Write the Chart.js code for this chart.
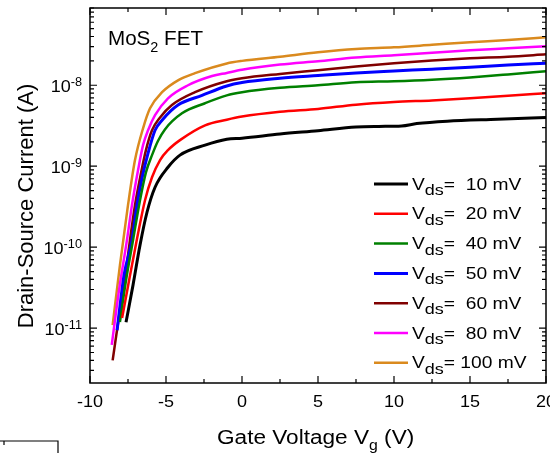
<!DOCTYPE html>
<html>
<head>
<meta charset="utf-8">
<script src="https://cdn.jsdelivr.net/npm/chart.js@4.4.0/dist/chart.umd.min.js"></script>
<style>
  html, body { margin: 0; padding: 0; background: #fff; }
  #chartId { display: block; }
</style>
</head>
<body>
<canvas id="chartId" width="550" height="453"></canvas>
<script>
// Gate voltage (V) and drain-source current (A)
var vg10 = [-7.63, -7.17, -6.71, -6.25, -5.72, -4.87, -4.08, -2.43, -1, 0, 2.5, 5, 7.5, 9, 10.5, 11.5, 13.5, 16.8, 20];
var id10 = [1.18e-11, 3.4e-11, 1.06e-10, 2.7e-10, 5.5e-10, 9.7e-10, 1.37e-9, 1.82e-9, 2.15e-9, 2.22e-9, 2.5e-9, 2.75e-9, 3.05e-9, 3.1e-9, 3.14e-9, 3.36e-9, 3.6e-9, 3.8e-9, 4.0e-9];

var vg20 = [-7.89, -7.5, -6.91, -6.38, -5.92, -5.39, -4.87, -4.08, -2.43, -1, 0, 2.5, 5, 7.5, 10, 12.5, 15, 17.5, 20];
var id20 = [1.33e-11, 3.3e-11, 1.26e-10, 3.8e-10, 7.3e-10, 1.19e-9, 1.58e-9, 2.1e-9, 3.2e-9, 3.75e-9, 4.1e-9, 4.7e-9, 5.1e-9, 5.75e-9, 6.2e-9, 6.5e-9, 6.9e-9, 7.4e-9, 7.97e-9];

var vg40 = [-8.03, -7.63, -7.17, -6.71, -6.32, -5.92, -5.53, -5.07, -3.95, -2.43, -1, 0, 2.5, 5, 7.5, 10, 12.5, 15, 17.5, 20];
var id40 = [1.19e-11, 3.9e-11, 1.22e-10, 3.8e-10, 8.4e-10, 1.37e-9, 2.05e-9, 2.85e-9, 4.5e-9, 6.0e-9, 7.5e-9, 8.2e-9, 9.3e-9, 1.0e-8, 1.09e-8, 1.12e-8, 1.17e-8, 1.25e-8, 1.36e-8, 1.49e-8];

var vg50 = [-8.22, -7.76, -7.24, -6.91, -6.58, -6.18, -5.72, -5.26, -4.21, -2.63, -1, 0, 2.5, 5, 7.5, 10, 12.5, 15, 17.5, 20];
var id50 = [9.4e-12, 4.5e-11, 1.22e-10, 3.3e-10, 7.1e-10, 1.45e-9, 2.78e-9, 3.7e-9, 5.7e-9, 7.5e-9, 9.8e-9, 1.08e-8, 1.22e-8, 1.32e-8, 1.42e-8, 1.5e-8, 1.58e-8, 1.67e-8, 1.78e-8, 1.87e-8];

var vg60 = [-8.51, -8.03, -7.63, -7.37, -7.04, -6.71, -6.32, -5.92, -5.39, -4.61, -3.09, -1, 0, 2.5, 5, 7.5, 10, 12.5, 15, 17.5, 20];
var id60 = [4.0e-12, 1.67e-11, 5.2e-11, 1.22e-10, 3.3e-10, 7.1e-10, 1.58e-9, 2.78e-9, 4.0e-9, 5.7e-9, 8.2e-9, 1.12e-8, 1.22e-8, 1.38e-8, 1.53e-8, 1.7e-8, 1.87e-8, 2.02e-8, 2.15e-8, 2.25e-8, 2.41e-8];

var vg80 = [-8.57, -8.09, -7.57, -7.24, -6.84, -6.51, -6.18, -5.72, -4.87, -3.55, -1.97, -1, 0, 2.5, 5, 7.5, 10, 12.5, 15, 17.5, 20];
var id80 = [6.2e-12, 2.95e-11, 1.22e-10, 3.3e-10, 8.9e-10, 1.82e-9, 2.78e-9, 4.27e-9, 6.9e-9, 1.0e-8, 1.3e-8, 1.42e-8, 1.55e-8, 1.8e-8, 1.98e-8, 2.2e-8, 2.35e-8, 2.52e-8, 2.7e-8, 2.86e-8, 3.03e-8];

var vg100 = [-8.51, -8.03, -7.5, -7.04, -6.51, -6.05, -5.26, -4.21, -3.09, -1, 0, 2.5, 5, 7.5, 10, 12.5, 15, 17.5, 20];
var id100 = [1.09e-11, 6.0e-11, 3.3e-10, 1.19e-9, 2.94e-9, 5.2e-9, 8.2e-9, 1.15e-8, 1.41e-8, 1.86e-8, 2.0e-8, 2.25e-8, 2.55e-8, 2.8e-8, 2.94e-8, 3.16e-8, 3.4e-8, 3.63e-8, 3.92e-8];

var vdsLabels = ['10', '20', '40', '50', '60', '80', '100'];
var colours = ['#000000', '#ff0000', '#008000', '#0000ff', '#800000', '#ff00ff', '#da8a1e'];
var widths = [3, 2.5, 2.5, 3, 2.5, 2.5, 2.5];

var xMajor = [-10, -5, 0, 5, 10, 15, 20];
var xMinor = [-7.5, -2.5, 2.5, 7.5, 12.5, 17.5];
var yDecades = [-8, -9, -10, -11];

var allVg = [vg10, vg20, vg40, vg50, vg60, vg80, vg100];
var allId = [id10, id20, id40, id50, id60, id80, id100];

function pts(xs, ys) {
	return xs.map(function (x, i) { return { x: x, y: ys[i] }; });
}

var FONT = '"Liberation Sans", Arial, sans-serif';

// text pieces drawn left to right, each with own size and baseline shift;
// sx widens the glyphs like the stretched original
function richWidth(ctx, parts, sx) {
	var w = 0;
	parts.forEach(function (p) {
		ctx.font = p.size + 'px ' + FONT;
		w += ctx.measureText(p.t).width;
	});
	return w * (sx || 1);
}
function richText(ctx, parts, x, y, sx) {
	ctx.save();
	ctx.translate(x, y);
	ctx.scale(sx || 1, 1);
	var cx = 0;
	parts.forEach(function (p) {
		ctx.font = p.size + 'px ' + FONT;
		ctx.fillText(p.t, cx, p.dy || 0);
		cx += ctx.measureText(p.t).width;
	});
	ctx.restore();
}

var frame = {
	id: 'frame',
	afterDraw: function (chart) {
		var ctx = chart.ctx;
		var a = chart.chartArea;
		var xs = chart.scales.x, ys = chart.scales.y;
		ctx.save();
		ctx.strokeStyle = '#000';
		ctx.fillStyle = '#000';
		ctx.lineWidth = 1.5;
		ctx.strokeRect(a.left, a.top, a.right - a.left, a.bottom - a.top);

		ctx.lineWidth = 1.2;
		ctx.beginPath();
		// x ticks, inward, bottom and top
		xMajor.concat(xMinor).forEach(function (v) {
			var len = xMajor.indexOf(v) >= 0 ? 7 : 4;
			var px = xs.getPixelForValue(v);
			ctx.moveTo(px, a.bottom); ctx.lineTo(px, a.bottom - len);
			ctx.moveTo(px, a.top); ctx.lineTo(px, a.top + len);
		});
		// y ticks, inward, left and right
		for (var d = -12; d <= -7; d++) {
			for (var k = 1; k <= 9; k++) {
				var v = k * Math.pow(10, d);
				if (v < ys.min || v > ys.max) continue;
				var len = k === 1 ? 7 : 4;
				var py = ys.getPixelForValue(v);
				ctx.moveTo(a.left, py); ctx.lineTo(a.left + len, py);
				ctx.moveTo(a.right, py); ctx.lineTo(a.right - len, py);
			}
		}
		ctx.stroke();

		ctx.textAlign = 'left';
		ctx.textBaseline = 'alphabetic';

		// x tick labels
		xMajor.forEach(function (v) {
			var parts = [{ t: String(v), size: 17 }];
			var w = richWidth(ctx, parts, 1.06);
			richText(ctx, parts, xs.getPixelForValue(v) - w / 2, 407, 1.06);
		});

		// y tick labels 10^n
		yDecades.forEach(function (d) {
			var py = ys.getPixelForValue(Math.pow(10, d));
			var parts = [{ t: '10', size: 17, dy: 6.5 }, { t: String(d), size: 12, dy: 1 }];
			var w = richWidth(ctx, parts, 1.06);
			richText(ctx, parts, 82 - w, py, 1.06);
		});

		// axis titles
		richText(ctx, [{ t: 'Gate Voltage V', size: 20 }, { t: 'g', size: 14, dy: 6 }, { t: ' (V)', size: 20 }], 217, 444, 1.13);
		ctx.save();
		ctx.translate(27, 206);
		ctx.rotate(-Math.PI / 2);
		ctx.textAlign = 'center';
		ctx.textBaseline = 'middle';
		ctx.font = '22px ' + FONT;
		ctx.fillText('Drain-Source Current (A)', 0, 0);
		ctx.restore();

		// sample label
		richText(ctx, [{ t: 'MoS', size: 20 }, { t: '2', size: 14, dy: 7 }, { t: ' FET', size: 20 }], 108, 45, 1.03);

		// legend
		vdsLabels.forEach(function (lab, i) {
			var ry = 184 + i * 29.8;
			ctx.strokeStyle = colours[i];
			ctx.lineWidth = widths[i];
			ctx.beginPath();
			ctx.moveTo(374, ry); ctx.lineTo(408, ry);
			ctx.stroke();
			var val = lab.length < 3 ? '=  ' + lab + ' mV' : '= ' + lab + ' mV';
			richText(ctx, [{ t: 'V', size: 16, dy: 5.5 }, { t: 'ds', size: 15, dy: 11 }, { t: val, size: 16, dy: 5.5 }], 412, ry, 1.2);
		});

		// corner of a neighbouring panel, bottom left
		ctx.strokeStyle = '#000';
		ctx.lineWidth = 1.2;
		ctx.beginPath();
		ctx.moveTo(0, 441); ctx.lineTo(58, 441); ctx.lineTo(58, 453);
		ctx.moveTo(4, 441); ctx.lineTo(4, 445);
		ctx.stroke();
		ctx.restore();
	}
};

var chrt = document.getElementById('chartId').getContext('2d');
var chartId = new Chart(chrt, {
	type: 'line',
	data: {
		datasets: allVg.map(function (xs, i) {
			return {
				label: 'Vds= ' + vdsLabels[i] + ' mV',
				data: pts(xs, allId[i]),
				borderColor: colours[i],
				backgroundColor: colours[i],
				borderWidth: widths[i],
				pointRadius: 0,
				cubicInterpolationMode: 'monotone',
				fill: false
			};
		})
	},
	options: {
		responsive: false,
		animation: false,
		devicePixelRatio: 1,
		layout: { padding: { left: 90, right: 4, top: 8, bottom: 70 } },
		plugins: {
			legend: { display: false },
			tooltip: { enabled: false }
		},
		scales: {
			x: { type: 'linear', min: -10, max: 20, display: false },
			y: { type: 'logarithmic', min: 2.1e-12, max: 9e-8, display: false }
		}
	},
	plugins: [frame]
});
</script>
</body>
</html>
